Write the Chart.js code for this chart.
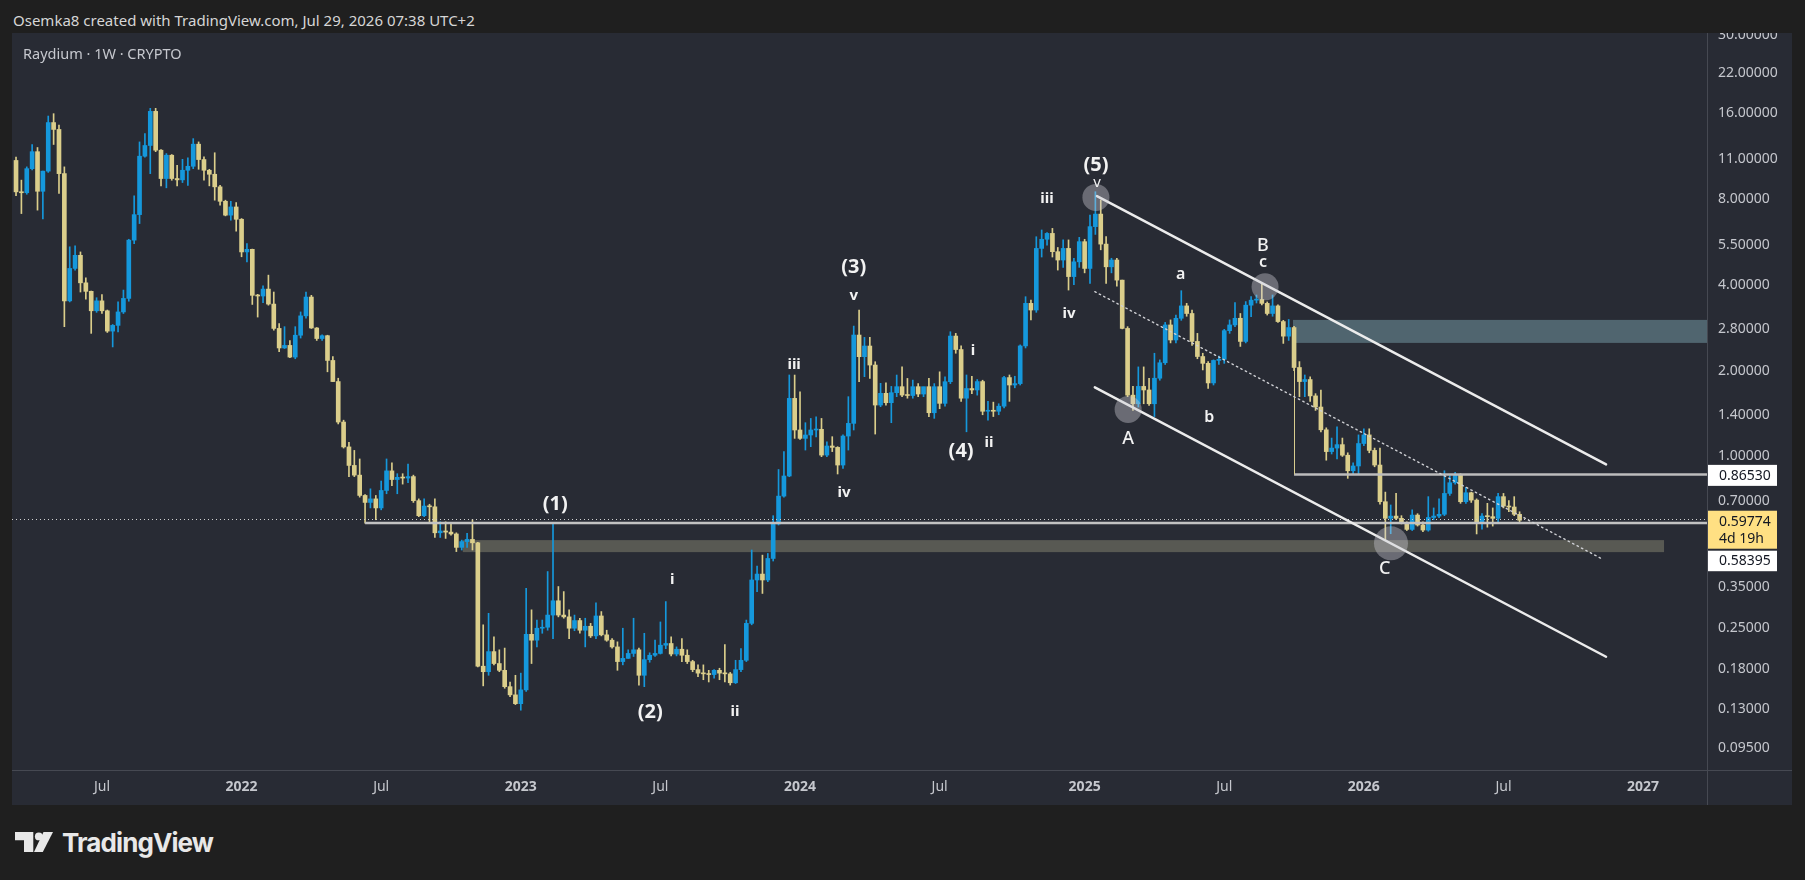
<!DOCTYPE html>
<html><head><meta charset="utf-8">
<script src="https://cdn.jsdelivr.net/npm/chart.js@4.4.1/dist/chart.umd.min.js"></script>
<style>
html,body{margin:0;padding:0;background:#1f1f1f;width:1805px;height:880px;overflow:hidden;font-family:"Noto Sans",sans-serif;}
#hdr{position:absolute;left:13px;top:8px;font-size:15px;color:#d6d6d6;line-height:24px;white-space:nowrap}
#panel{position:absolute;left:12px;top:33px;width:1780px;height:772px;background:#282b34}
#cv{position:absolute;left:0;top:0}
#legend{position:absolute;left:11px;top:9px;font-size:14.5px;line-height:22px;color:#c6c8ce;white-space:nowrap}
#logo{position:absolute;left:15px;top:832px;height:22px}
#logo svg{position:absolute;left:0;top:0}
#logo span{position:absolute;left:47px;top:-2px;font-family:Inter,"Noto Sans",sans-serif;font-weight:700;font-size:26px;line-height:26px;letter-spacing:-0.9px;color:#e8e8e8;white-space:nowrap}
</style></head>
<body>
<div id="hdr">Osemka8 created with TradingView.com, Jul 29, 2026 07:38 UTC+2</div>
<div id="panel"><canvas id="cv" width="1780" height="772"></canvas><div id="legend">Raydium · 1W · CRYPTO</div></div>
<div id="logo"><svg width="40" height="21" viewBox="0 0 40 21"><path d="M0 0H18.3V20H9V8.3H0Z" fill="#e8e8e8"/><circle cx="23.8" cy="4.4" r="3.9" fill="#e8e8e8"/><path d="M28.5 0H38L27.8 20H19Z" fill="#e8e8e8"/></svg><span>TradingView</span></div>
<script>
// Weekly candles, first candle = week of 2021-03-15, last = week of 2026-07-27
const opens = [
10.9,8.46,8.4,10.2,11.7,8.5,10.0,14.8,14.0,9.8,
3.51,4.56,5.07,4.06,3.79,3.24,3.51,3.24,2.75,2.88,
3.21,3.58,5.73,7.04,11.28,12.3,16.2,11.84,9.42,11.37,
9.42,9.32,10.07,10.4,12.43,10.98,10.07,9.75,8.81,7.84,
7.01,7.49,6.78,5.21,5.32,3.67,3.65,3.86,3.42,2.81,
2.40,2.45,2.23,2.66,3.11,3.62,2.82,2.59,2.65,2.17,
1.83,1.32,1.08,0.93,0.86,0.73,0.69,0.71,0.66,0.76,
0.89,0.83,0.845,0.84,0.85,0.70,0.62,0.67,0.666,0.54,
0.548,0.543,0.535,0.48,0.503,0.512,0.498,0.184,0.176,0.207,
0.188,0.178,0.156,0.146,0.136,0.152,0.238,0.227,0.250,0.252,
0.278,0.312,0.278,0.274,0.250,0.266,0.246,0.254,0.235,0.276,
0.237,0.227,0.215,0.191,0.196,0.204,0.21,0.171,0.194,0.201,
0.204,0.218,0.221,0.203,0.211,0.201,0.191,0.179,0.174,0.173,
0.172,0.178,0.174,0.173,0.161,0.179,0.193,0.260,0.369,0.387,
0.369,0.439,0.58,0.726,0.854,1.598,1.238,1.157,1.189,1.238,
1.245,1.011,1.088,1.076,0.933,1.179,1.306,2.664,2.237,2.438,
2.091,1.514,1.664,1.543,1.673,1.756,1.641,1.635,1.756,1.655,
1.756,1.423,1.756,1.535,1.828,2.642,2.37,1.60,1.73,1.71,
1.83,1.44,1.45,1.44,1.50,1.89,1.78,1.80,2.44,3.44,
3.26,5.36,5.77,6.05,5.22,4.88,5.36,4.27,4.81,5.66,
4.56,6.39,7.07,5.55,4.62,4.88,4.15,2.81,1.64,1.53,
1.76,1.71,1.53,1.88,2.13,2.89,2.56,3.05,3.37,3.17,
2.53,2.24,2.12,1.81,2.17,2.19,2.76,2.89,3.05,2.53,
3.39,3.53,3.55,3.44,3.17,3.37,2.97,2.64,2.83,2.05,
1.83,1.86,1.63,1.49,1.24,1.04,1.07,1.10,1.01,0.891,
0.926,1.11,1.19,1.05,0.933,0.694,0.607,0.618,0.607,0.583,
0.555,0.623,0.575,0.552,0.611,0.618,0.627,0.742,0.809,0.865,
0.694,0.746,0.703,0.583,0.618,0.615,0.607,0.723,0.670,0.665,
0.627];
const highs = [
11.2,9.3,10.35,12.4,12.1,10.0,15.6,15.9,14.5,10.35,
5.43,5.47,5.21,4.23,3.8,3.60,3.69,3.26,2.90,3.48,
3.83,5.77,8.19,12.66,13.54,16.6,16.6,11.9,11.52,11.43,
10.49,11.0,11.13,13.0,12.66,11.22,10.15,11.6,8.92,7.91,
7.84,7.76,6.82,5.57,5.33,3.7,3.96,4.32,3.77,2.92,
2.85,2.55,2.85,3.21,3.77,3.67,2.83,2.67,2.66,2.24,
1.88,1.34,1.12,1.05,0.98,0.735,0.77,0.73,0.82,0.98,
0.95,0.87,0.87,0.94,0.86,0.71,0.71,0.68,0.71,0.59,
0.59,0.586,0.54,0.509,0.538,0.60,0.50,0.257,0.282,0.233,
0.21,0.213,0.162,0.171,0.174,0.345,0.29,0.267,0.267,0.395,
0.583,0.35,0.336,0.29,0.278,0.271,0.271,0.26,0.307,0.286,
0.246,0.23,0.224,0.25,0.21,0.271,0.213,0.24,0.205,0.227,
0.263,0.31,0.233,0.215,0.23,0.21,0.193,0.186,0.186,0.178,
0.179,0.181,0.219,0.175,0.193,0.212,0.267,0.47,0.413,0.451,
0.457,0.62,0.90,1.04,1.93,1.929,1.686,1.313,1.359,1.378,
1.359,1.126,1.173,1.082,1.19,1.62,2.864,3.26,2.614,2.614,
2.148,1.804,1.813,1.76,1.929,2.063,1.877,1.852,1.80,1.75,
1.877,1.80,1.98,1.90,2.736,2.70,2.44,1.93,1.91,1.86,
1.85,1.56,1.55,1.53,1.91,1.93,1.91,2.46,3.63,3.53,
5.89,6.22,6.09,6.30,5.4,5.74,5.74,4.95,5.86,5.77,
7.02,8.47,7.92,5.9,4.95,4.95,4.15,2.85,1.76,2.06,
2.06,1.88,2.30,2.18,2.95,3.01,3.13,3.81,3.44,3.26,
2.70,2.30,2.15,2.18,2.25,2.79,3.01,3.46,3.17,3.49,
3.63,3.68,4.04,3.48,3.68,3.40,3.0,3.02,2.86,2.15,
1.93,1.90,1.66,1.71,1.26,1.16,1.27,1.16,1.03,0.95,
1.19,1.25,1.25,1.07,1.07,0.75,0.676,0.742,0.62,0.59,
0.65,0.63,0.59,0.723,0.66,0.71,0.891,0.856,0.88,0.87,
0.78,0.75,0.71,0.63,0.685,0.66,0.742,0.742,0.70,0.723,
0.64];
const lows = [
8.2,7.1,8.3,10.1,7.3,6.8,9.9,12.4,8.35,2.85,
3.48,4.5,3.77,3.56,2.70,3.2,3.17,2.72,2.42,2.73,
3.17,3.50,5.57,6.55,11.2,9.8,11.7,8.88,8.74,9.29,
8.88,9.12,8.92,10.2,10.15,9.29,8.88,7.91,7.6,6.97,
6.73,6.16,5.01,4.81,3.41,3.08,3.46,3.39,2.77,2.33,
2.39,2.22,2.2,2.6,3.05,2.81,2.55,2.55,1.98,1.83,
1.30,1.07,0.85,0.85,0.72,0.584,0.66,0.60,0.65,0.74,
0.79,0.74,0.80,0.81,0.69,0.615,0.615,0.583,0.52,0.52,
0.516,0.53,0.464,0.47,0.48,0.47,0.183,0.157,0.171,0.186,
0.176,0.154,0.144,0.135,0.129,0.150,0.188,0.215,0.24,0.246,
0.23,0.274,0.271,0.23,0.245,0.24,0.215,0.232,0.23,0.235,
0.225,0.213,0.178,0.186,0.196,0.199,0.158,0.156,0.19,0.199,
0.203,0.212,0.20,0.20,0.191,0.188,0.176,0.169,0.165,0.162,
0.167,0.165,0.162,0.158,0.16,0.176,0.191,0.257,0.336,0.331,
0.364,0.43,0.575,0.72,0.849,1.157,1.148,1.053,1.082,1.17,
0.998,0.998,1.04,0.868,0.908,1.053,1.238,1.83,1.904,1.877,
1.198,1.494,1.514,1.313,1.62,1.62,1.60,1.60,1.62,1.62,
1.378,1.36,1.47,1.50,1.80,2.30,1.56,1.22,1.66,1.64,
1.40,1.34,1.38,1.40,1.48,1.56,1.74,1.78,2.40,3.01,
3.20,5.0,5.5,5.0,4.5,4.6,3.83,4.0,4.6,4.4,
4.04,6.0,5.3,4.04,4.4,3.95,2.8,1.62,1.45,1.49,
1.53,1.51,1.38,1.85,2.10,2.50,2.50,3.0,3.10,2.45,
2.20,2.01,1.73,1.78,2.10,2.12,2.70,2.85,2.43,2.50,
3.09,3.45,3.40,3.13,3.1,2.95,2.49,2.55,2.0,1.62,
1.62,1.56,1.45,1.22,0.97,1.02,0.98,1.0,0.838,0.87,
0.87,1.09,1.03,0.92,0.68,0.509,0.536,0.60,0.58,0.55,
0.55,0.57,0.545,0.547,0.60,0.61,0.62,0.73,0.80,0.685,
0.685,0.69,0.535,0.556,0.565,0.57,0.59,0.66,0.64,0.62,
0.59];
const closes = [
8.46,8.4,10.2,11.7,8.5,10.0,14.8,14.0,9.8,3.51,
4.56,5.07,4.06,3.79,3.24,3.51,3.24,2.75,2.88,3.21,
3.58,5.73,7.04,11.28,12.3,16.2,11.84,9.42,11.37,9.42,
9.32,10.07,10.4,12.43,10.98,10.07,9.75,8.81,7.84,7.01,
7.49,6.78,5.21,5.32,3.67,3.65,3.86,3.42,2.81,2.40,
2.45,2.23,2.66,3.11,3.62,2.82,2.59,2.65,2.17,1.83,
1.32,1.08,0.93,0.86,0.73,0.69,0.71,0.66,0.76,0.89,
0.83,0.845,0.84,0.85,0.70,0.62,0.67,0.666,0.54,0.548,
0.543,0.535,0.48,0.503,0.512,0.498,0.184,0.176,0.207,0.188,
0.178,0.156,0.146,0.136,0.152,0.238,0.227,0.250,0.252,0.278,
0.312,0.278,0.274,0.250,0.266,0.246,0.254,0.235,0.276,0.237,
0.227,0.215,0.191,0.196,0.204,0.21,0.171,0.194,0.201,0.204,
0.218,0.221,0.203,0.211,0.201,0.191,0.179,0.174,0.173,0.172,
0.178,0.174,0.173,0.161,0.179,0.193,0.260,0.369,0.387,0.369,
0.439,0.58,0.726,0.854,1.598,1.238,1.157,1.189,1.238,1.245,
1.011,1.088,1.076,0.933,1.179,1.306,2.664,2.237,2.438,2.091,
1.514,1.664,1.543,1.673,1.756,1.641,1.635,1.756,1.655,1.756,
1.423,1.756,1.535,1.828,2.642,2.37,1.60,1.73,1.71,1.83,
1.44,1.45,1.44,1.50,1.89,1.78,1.80,2.44,3.44,3.26,
5.36,5.77,6.05,5.22,4.88,5.36,4.27,4.81,5.66,4.56,
6.39,7.07,5.55,4.62,4.88,4.15,2.81,1.64,1.53,1.76,
1.71,1.53,1.88,2.13,2.89,2.56,3.05,3.37,3.17,2.53,
2.24,2.12,1.81,2.17,2.19,2.76,2.89,3.05,2.53,3.39,
3.53,3.55,3.44,3.17,3.37,2.97,2.64,2.83,2.05,1.83,
1.86,1.63,1.49,1.24,1.04,1.07,1.10,1.01,0.891,0.926,
1.11,1.19,1.05,0.933,0.694,0.607,0.618,0.607,0.583,0.555,
0.623,0.575,0.552,0.611,0.618,0.627,0.742,0.809,0.865,0.694,
0.746,0.703,0.583,0.618,0.615,0.607,0.723,0.670,0.665,0.627,
0.59774];

// time axis: week index -> label
const xTickIndex  = [16, 42, 68, 94, 120, 146, 172, 199, 225, 251, 277, 303];
const xTickLabels = ['Jul','2022','Jul','2023','Jul','2024','Jul','2025','Jul','2026','Jul','2027'];
// price axis ticks
const yTickValues = [30,22,16,11,8,5.5,4,2.8,2,1.4,1,0.7,0.35,0.25,0.18,0.13,0.095];

// price levels on the axis
const lastPrice = 0.59774;
const levelUpper = 0.8653;
const levelLower = 0.58395;
const countdown = '4d 19h';

// drawings (week index, price)
const zones = [
  {x0: 83.2, x1: 306.9, lo: 0.462, hi: 0.509, color: 'rgba(118,118,104,0.62)'},
  {x0: 237.8, x1: null, lo: 2.50, hi: 3.01, color: 'rgba(96,124,134,0.72)'}
];
const trendLines = [
  {x0: 201.3, p0: 8.18, x1: 296.1, p1: 0.938, color: '#ececec', w: 2.5, dash: []},
  {x0: 200.9, p0: 1.746, x1: 296.1, p1: 0.1986, color: '#ececec', w: 2.5, dash: []},
  {x0: 200.9, p0: 3.78, x1: 295.5, p1: 0.436, color: '#cfd0d4', w: 1.4, dash: [1.5, 3.5]}
];
const hLevels = [
  {x0: 65, p: levelLower, color: '#c2c2c2', w: 2.5},
  {x0: 238, p: levelUpper, color: '#bcbcbc', w: 2.5}
];
const vMarks = [{x: 238, p0: levelUpper, p1: 2.69, color: '#d8cd8e', w: 1}];
const circles = [
  {x: 201.1, p: 8.09, r: 13.5},
  {x: 207.1, p: 1.462, r: 13.5},
  {x: 232.6, p: 3.93, r: 13.5},
  {x: 256.05, p: 0.496, r: 17}
];
const waveLabels = [
  {t:'(1)', x:100.4, p:0.681, f:'bold 20px "Noto Sans"'},
  {t:'(2)', x:118.1, p:0.1271, f:'bold 20px "Noto Sans"'},
  {t:'(3)', x:156.0, p:4.61, f:'bold 20px "Noto Sans"'},
  {t:'(4)', x:176.0, p:1.045, f:'bold 20px "Noto Sans"'},
  {t:'(5)', x:201.1, p:10.5, f:'bold 20px "Noto Sans"'},
  {t:'i',   x:122.2, p:0.369, f:'bold 15px "Noto Sans"'},
  {t:'ii',  x:133.9, p:0.1271, f:'bold 15px "Noto Sans"'},
  {t:'iii', x:144.9, p:2.091, f:'bold 15px "Noto Sans"'},
  {t:'iv',  x:154.2, p:0.744, f:'bold 15px "Noto Sans"'},
  {t:'v',   x:156.0, p:3.65, f:'bold 15px "Noto Sans"'},
  {t:'i',   x:178.2, p:2.342, f:'bold 15px "Noto Sans"'},
  {t:'ii',  x:181.2, p:1.114, f:'bold 15px "Noto Sans"'},
  {t:'iii', x:192.0, p:7.99, f:'bold 15px "Noto Sans"'},
  {t:'iv',  x:196.1, p:3.157, f:'bold 15px "Noto Sans"'},
  {t:'v',   x:201.3, p:9.10, f:'15px "Noto Sans"'},
  {t:'a',   x:216.9, p:4.36, f:'600 16px "Noto Sans"'},
  {t:'b',   x:222.2, p:1.375, f:'600 16px "Noto Sans"'},
  {t:'c',   x:232.2, p:4.80, f:'600 16px "Noto Sans"'},
  {t:'B',   x:232.2, p:5.46, f:'500 18px "Noto Sans"'},
  {t:'A',   x:207.1, p:1.151, f:'500 18px "Noto Sans"'},
  {t:'C',   x:254.9, p:0.403, f:'500 18px "Noto Sans"'}
];

const UP = '#1598dc', DOWN = '#dbce8b';
const colors = closes.map((c, i) => c >= opens[i] ? UP : DOWN);
const wickData = opens.map((o, i) => ({x: i, y: [lows[i], highs[i]]}));
const bodyData = opens.map((o, i) => ({x: i, y: [o, closes[i]]}));

const drawings = {
  id: 'tvDrawings',
  beforeDatasetsDraw(ch) {
    const c = ch.ctx, X = ch.scales.x, Y = ch.scales.y, a = ch.chartArea;
    c.save(); c.beginPath(); c.rect(a.left, a.top, a.right - a.left, a.bottom - a.top); c.clip();
    zones.forEach(z => {
      const x0 = X.getPixelForValue(z.x0), x1 = z.x1 == null ? a.right : X.getPixelForValue(z.x1);
      const y0 = Y.getPixelForValue(z.hi), y1 = Y.getPixelForValue(z.lo);
      c.fillStyle = z.color; c.fillRect(x0, y0, x1 - x0, y1 - y0);
    });
    c.restore();
  },
  afterDatasetsDraw(ch) {
    const c = ch.ctx, X = ch.scales.x, Y = ch.scales.y, a = ch.chartArea;
    c.save(); c.beginPath(); c.rect(a.left, a.top, a.right - a.left, a.bottom - a.top); c.clip();
    const yl = Y.getPixelForValue(lastPrice);
    c.strokeStyle = '#d0d0d0'; c.lineWidth = 1; c.setLineDash([1, 3]);
    c.beginPath(); c.moveTo(a.left, Math.round(yl) - 0.5); c.lineTo(a.right, Math.round(yl) - 0.5); c.stroke();
    c.setLineDash([]);
    hLevels.forEach(h => {
      const y = Y.getPixelForValue(h.p);
      c.strokeStyle = h.color; c.lineWidth = h.w;
      c.beginPath(); c.moveTo(X.getPixelForValue(h.x0), y); c.lineTo(a.right, y); c.stroke();
    });
    vMarks.forEach(v => {
      const x = Math.round(X.getPixelForValue(v.x)) + 0.5;
      c.strokeStyle = v.color; c.lineWidth = v.w;
      c.beginPath(); c.moveTo(x, Y.getPixelForValue(v.p0)); c.lineTo(x, Y.getPixelForValue(v.p1)); c.stroke();
    });
    trendLines.forEach(l => {
      c.strokeStyle = l.color; c.lineWidth = l.w; c.setLineDash(l.dash); c.lineCap = 'round';
      c.beginPath(); c.moveTo(X.getPixelForValue(l.x0), Y.getPixelForValue(l.p0));
      c.lineTo(X.getPixelForValue(l.x1), Y.getPixelForValue(l.p1)); c.stroke();
    });
    c.setLineDash([]);
    circles.forEach(o => {
      c.fillStyle = 'rgba(205,206,212,0.40)';
      c.beginPath(); c.arc(X.getPixelForValue(o.x), Y.getPixelForValue(o.p), o.r, 0, Math.PI * 2); c.fill();
    });
    c.restore();
    c.save();
    c.fillStyle = '#f2f2f2'; c.textAlign = 'center'; c.textBaseline = 'middle';
    waveLabels.forEach(l => {
      c.font = l.f;
      c.fillText(l.t, X.getPixelForValue(l.x), Y.getPixelForValue(l.p));
    });
    c.restore();
  },
  afterDraw(ch) {
    const c = ch.ctx, Y = ch.scales.y, a = ch.chartArea;
    c.save();
    c.strokeStyle = '#464952'; c.lineWidth = 1;
    c.beginPath(); c.moveTo(0, Math.round(a.bottom) + 0.5); c.lineTo(ch.width, Math.round(a.bottom) + 0.5); c.stroke();
    c.beginPath(); c.moveTo(Math.round(a.right) + 0.5, 0); c.lineTo(Math.round(a.right) + 0.5, ch.height); c.stroke();
    const bx = a.right + 1, bw = 69;
    c.font = '14px "Noto Sans"'; c.textAlign = 'left'; c.textBaseline = 'middle';
    const yu = Y.getPixelForValue(levelUpper);
    c.fillStyle = '#ffffff'; c.fillRect(bx, yu - 9.5, bw, 21);
    c.fillStyle = '#131722'; c.fillText(levelUpper.toFixed(5), bx + 11, yu + 1.5);
    const yp = Y.getPixelForValue(lastPrice);
    c.fillStyle = '#ffe083'; c.fillRect(bx, yp - 9.5, bw, 38);
    c.fillStyle = '#131722'; c.fillText(lastPrice.toFixed(5), bx + 11, yp + 1.5);
    c.fillText(countdown, bx + 11, yp + 18.5);
    const yb = yp + 30.5;
    c.fillStyle = '#ffffff'; c.fillRect(bx, yb, bw, 20.5);
    c.fillStyle = '#131722'; c.fillText(levelLower.toFixed(5), bx + 11, yb + 10.5);
    c.restore();
  }
};

new Chart(document.getElementById('cv'), {
  type: 'bar',
  data: {
    datasets: [
      {label: 'wick', data: wickData, backgroundColor: colors, barThickness: 1, grouped: false, borderWidth: 0, borderSkipped: false, order: 2},
      {label: 'body', data: bodyData, backgroundColor: colors, barThickness: 4, minBarLength: 1, grouped: false, borderWidth: 0, borderSkipped: false, order: 1}
    ]
  },
  options: {
    responsive: false, animation: false, events: [],
    layout: {padding: 0},
    plugins: {legend: {display: false}, tooltip: {enabled: false}},
    scales: {
      x: {
        type: 'linear', min: -0.75, max: 314.9, offset: false,
        grid: {display: false, drawTicks: false}, border: {display: false},
        afterBuildTicks: s => { s.ticks = xTickIndex.map(v => ({value: v})); },
        afterFit: s => { s.height = 35; },
        ticks: {
          autoSkip: false, maxRotation: 0, padding: 9, color: '#c5c7cd',
          font: ctx => ({family: 'Noto Sans', size: 14, weight: (ctx.index % 2 === 1) ? 'bold' : 'normal'}),
          callback: (v, i) => xTickLabels[i]
        }
      },
      y: {
        type: 'logarithmic', position: 'right', min: 0.07962, max: 30.49,
        grid: {display: false, drawTicks: false}, border: {display: false},
        afterBuildTicks: s => { s.ticks = yTickValues.map(v => ({value: v})); },
        afterFit: s => { s.width = 85; s.paddingTop = 0; s.paddingBottom = 0; },
        ticks: {autoSkip: false, padding: 11, color: '#c5c7cd', font: {family: 'Noto Sans', size: 14},
          callback: v => Number(v).toFixed(5)}
      }
    }
  },
  plugins: [drawings]
});
</script>
</body></html>
